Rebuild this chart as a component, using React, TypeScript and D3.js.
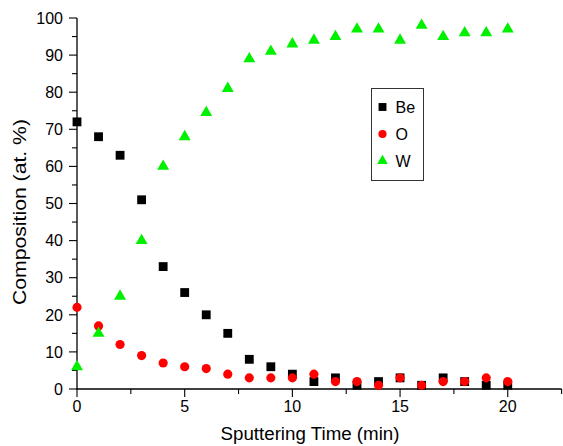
import { useEffect, useRef } from "react";
import * as d3 from "d3";

// Sputtering time (min)
const TIMES = [0, 1, 2, 3, 4, 5, 6, 7, 8, 9, 10, 11, 12, 13, 14, 15, 16, 17, 18, 19, 20];

// Composition (at.%) per element
const BE = [72, 68, 63, 51, 33, 26, 20, 15, 8, 6, 4, 2, 3, 1, 2, 3, 1, 3, 2, 1, 1];
const O = [22, 17, 12, 9, 7, 6, 5.5, 4, 3, 3, 3, 4, 2, 2, 1, 3, 1, 2, 2, 3, 2];
const W = [6, 15, 25, 40, 60, 68, 74.5, 81, 89, 91, 93, 94, 95, 97, 97, 94, 98, 95, 96, 96, 97];

const X_TICKS = [0, 5, 10, 15, 20];
const Y_TICKS = [0, 10, 20, 30, 40, 50, 60, 70, 80, 90, 100];

const SERIES = [
  { label: "Be", values: BE, color: "#000000", symbol: d3.symbolSquare, size: 78 },
  { label: "O", values: O, color: "#ff0000", symbol: d3.symbolCircle, size: 66 },
  { label: "W", values: W, color: "#00f000", symbol: d3.symbolTriangle, size: 62 },
];

const FONT = "'Liberation Sans', Arial, sans-serif";

export default function App() {
  const svgRef = useRef<SVGSVGElement>(null);

  useEffect(() => {
    const width = 563;
    const height = 446;

    const svg = d3.select(svgRef.current);
    svg.selectAll("*").remove();
    svg.attr("width", width).attr("height", height);

    const x = d3.scaleLinear().domain([0, 22.5]).range([77, 561.6]);
    const y = d3.scaleLinear().domain([0, 100]).range([389, 18]);

    // ----- Axes -----
    const xAxisG = svg.append("g").attr("transform", `translate(0,${y(0)})`);
    xAxisG.append("line")
      .attr("x1", x(0) - 0.6).attr("x2", x(22.5))
      .attr("stroke", "#000").attr("stroke-width", 1.3);
    d3.range(0, 22.6, 2.5).forEach((t) => {
      const major = t % 5 === 0;
      xAxisG.append("line")
        .attr("x1", x(t)).attr("x2", x(t))
        .attr("y1", 0).attr("y2", major ? 8 : 5)
        .attr("stroke", "#000").attr("stroke-width", 1.1);
    });
    X_TICKS.forEach((t) => {
      xAxisG.append("text")
        .attr("x", x(t)).attr("y", 23)
        .attr("text-anchor", "middle")
        .attr("font-family", FONT).attr("font-size", "16px")
        .text(t);
    });

    const yAxisG = svg.append("g").attr("transform", `translate(${x(0)},0)`);
    yAxisG.append("line")
      .attr("y1", y(0)).attr("y2", y(100))
      .attr("stroke", "#000").attr("stroke-width", 1.3);
    d3.range(0, 101, 5).forEach((t) => {
      const major = t % 10 === 0;
      yAxisG.append("line")
        .attr("x1", 0).attr("x2", major ? -8 : -5)
        .attr("y1", y(t)).attr("y2", y(t))
        .attr("stroke", "#000").attr("stroke-width", 1.1);
    });
    Y_TICKS.forEach((t) => {
      yAxisG.append("text")
        .attr("x", -14).attr("y", y(t))
        .attr("dy", "0.36em")
        .attr("text-anchor", "end")
        .attr("font-family", FONT).attr("font-size", "16px")
        .text(t);
    });

    // Axis titles
    svg.append("text")
      .attr("x", 310).attr("y", 440)
      .attr("text-anchor", "middle")
      .attr("font-family", FONT).attr("font-size", "18px")
      .attr("textLength", 179).attr("lengthAdjust", "spacingAndGlyphs")
      .text("Sputtering Time (min)");

    svg.append("text")
      .attr("transform", "translate(26,212) rotate(-90)")
      .attr("text-anchor", "middle")
      .attr("font-family", FONT).attr("font-size", "18px")
      .attr("textLength", 186).attr("lengthAdjust", "spacingAndGlyphs")
      .text("Composition (at. %)");

    // ----- Points -----
    SERIES.forEach((s) => {
      const sym = d3.symbol().type(s.symbol).size(s.size);
      svg.append("g")
        .selectAll("path")
        .data(s.values)
        .join("path")
        .attr("d", sym)
        .attr("transform", (d, i) => `translate(${x(TIMES[i])},${y(d)})`)
        .attr("fill", s.color);
    });

    // ----- Legend -----
    const legend = svg.append("g").attr("transform", "translate(371.5,88.5)");
    legend.append("rect")
      .attr("width", 52).attr("height", 92)
      .attr("fill", "#fff").attr("stroke", "#333").attr("stroke-width", 1);
    SERIES.forEach((s, i) => {
      const row = legend.append("g").attr("transform", `translate(0,${18.5 + i * 27})`);
      row.append("path")
        .attr("d", d3.symbol().type(s.symbol).size(s.size * 0.8))
        .attr("transform", "translate(11,0)")
        .attr("fill", s.color);
      row.append("text")
        .attr("x", 24).attr("dy", "0.36em")
        .attr("font-family", FONT).attr("font-size", "16px")
        .text(s.label);
    });
  }, []);

  return (
    <svg ref={svgRef} style={{ position: "absolute", left: 0, top: 0, background: "#fff" }}></svg>
  );
}
